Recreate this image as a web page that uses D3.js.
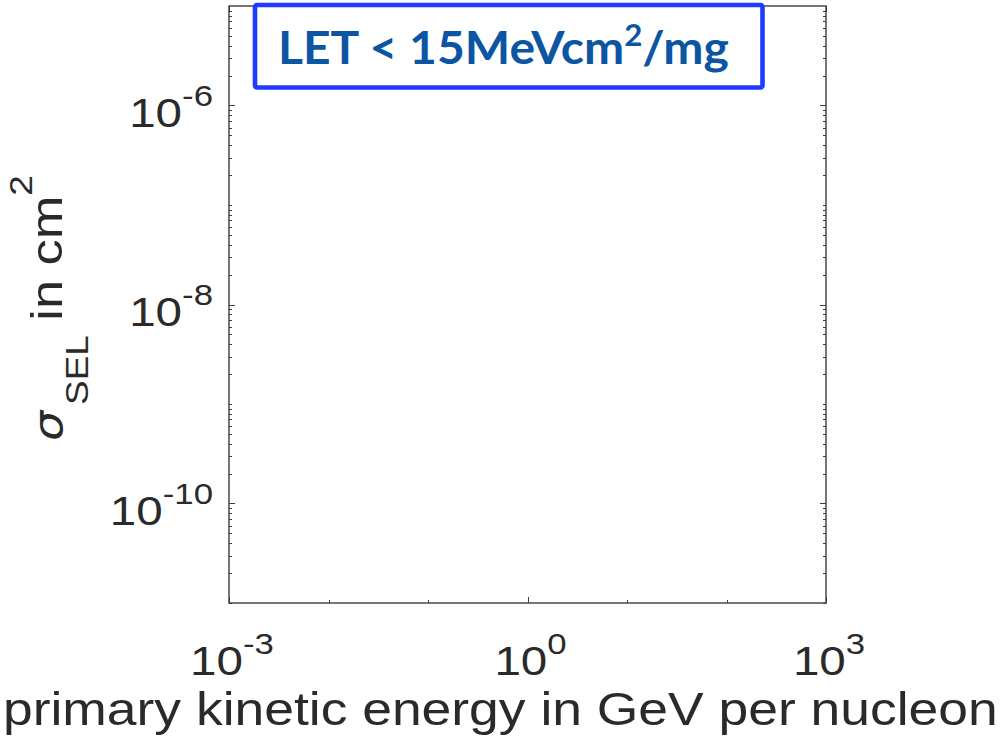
<!DOCTYPE html>
<html>
<head>
<meta charset="utf-8">
<script src="https://cdn.jsdelivr.net/npm/d3@7"></script>
<style>
  html, body { margin: 0; padding: 0; background: #ffffff; }
  svg { display: block; }
</style>
</head>
<body>
<svg id="chart" width="1006" height="748"></svg>
<script>
// Axis ranges (log scales)
const xDomain = [1e-3, 1e3];
const yDomain = [1e-11, 1e-5];

// Labelled decades on each axis
const xTickExponents = [-3, 0, 3];
const yTickExponents = [-10, -8, -6];

// Unlabelled decade ticks on the energy axis
const xMinorExponents = [-2, -1, 1, 2];

// Minor ticks on the cross-section axis: mantissas 1..9 inside each decade
const yMinorDecades = [-11, -10, -9, -8, -7, -6];
const yMinorMantissas = [1, 2, 3, 4, 5, 6, 7, 8, 9];

// Text
const xAxisTitle = "primary kinetic energy in GeV per nucleon";
const yAxisTitleParts = ["σ", "SEL", " in cm", "2"];
const annotationParts = ["LET < 15MeVcm", "2", "/mg"];

const svg = d3.select("#chart");
const W = 1006, H = 748;
const plot = { left: 229, right: 826, top: 6, bottom: 603 };

const x = d3.scaleLog().domain(xDomain).range([plot.left, plot.right]);
const y = d3.scaleLog().domain(yDomain).range([plot.bottom, plot.top]);

const axisColor = "#3c3c3c";
const labelColor = "#2a2a2a";
const sansFont = "'Liberation Sans', Arial, Helvetica, sans-serif";
const majorLen = 6, minorLen = 3;
const wide = 1.16;   // horizontal widening of the axis text glyphs

svg.append("rect").attr("width", W).attr("height", H).attr("fill", "#ffffff");

// ---- tick marks (pointing inward, mirrored on opposite sides) ----
const ticks = svg.append("g").attr("stroke", axisColor).attr("stroke-width", 1);

const yMajorVals = yTickExponents.map(e => Math.pow(10, e));
const yMinorVals = [];
yMinorDecades.forEach(d => yMinorMantissas.forEach(m => {
  const v = m * Math.pow(10, d);
  if (v >= yDomain[0] && v <= yDomain[1] && !yTickExponents.some(e => Math.abs(Math.log10(v) - e) < 1e-9)) {
    yMinorVals.push(v);
  }
}));

function hTicks(vals, len) {
  vals.forEach(v => {
    const yy = Math.round(y(v)) + 0.5;
    ticks.append("line").attr("x1", plot.left).attr("x2", plot.left + len).attr("y1", yy).attr("y2", yy);
    ticks.append("line").attr("x1", plot.right).attr("x2", plot.right - len).attr("y1", yy).attr("y2", yy);
  });
}
hTicks(yMajorVals, majorLen);
hTicks(yMinorVals, minorLen);

const xMajorVals = xTickExponents.map(e => Math.pow(10, e));
const xMinorVals = xMinorExponents.map(e => Math.pow(10, e));
function vTicks(vals, len) {
  vals.forEach(v => {
    const xx = Math.round(x(v)) + 0.5;
    ticks.append("line").attr("x1", xx).attr("x2", xx).attr("y1", plot.bottom).attr("y2", plot.bottom - len);
    ticks.append("line").attr("x1", xx).attr("x2", xx).attr("y1", plot.top).attr("y2", plot.top + len);
  });
}
vTicks(xMajorVals, majorLen);
vTicks(xMinorVals, minorLen);

// ---- box around the axes ----
svg.append("rect")
  .attr("x", plot.left).attr("y", plot.top)
  .attr("width", plot.right - plot.left).attr("height", plot.bottom - plot.top)
  .attr("fill", "none").attr("stroke", axisColor).attr("stroke-width", 1.4);

// ---- tick labels: 10 with superscript exponent ----
function powerLabel(sel, exp, supSize, supRise) {
  sel.append("tspan").text("10");
  sel.append("tspan").attr("font-size", supSize).attr("dy", -supRise)
    .text(exp < 0 ? "-" + Math.abs(exp) : String(exp));
}

xTickExponents.forEach(e => {
  const t = svg.append("text")
    .attr("transform", `translate(${x(Math.pow(10, e)) + 3},675) scale(${wide},1)`)
    .attr("text-anchor", "middle")
    .attr("font-family", sansFont).attr("font-size", 41)
    .attr("fill", labelColor);
  powerLabel(t, e, 30, 21);
});

yTickExponents.forEach(e => {
  const t = svg.append("text")
    .attr("transform", `translate(213,${y(Math.pow(10, e)) + 21}) scale(${wide},1)`)
    .attr("text-anchor", "end")
    .attr("font-family", sansFont).attr("font-size", 41)
    .attr("fill", labelColor);
  powerLabel(t, e, 30, 21);
});

// ---- x axis title, fitted to its span ----
const xTitle = svg.append("text")
  .attr("x", 0).attr("y", 0)
  .attr("font-family", sansFont).attr("font-size", 46)
  .attr("fill", labelColor)
  .text(xAxisTitle);
{
  const bb = xTitle.node().getBBox();
  const sx = 995 / bb.width;
  xTitle.attr("transform", `translate(${3 - bb.x * sx},725) scale(${sx},1)`);
}

// ---- y axis title: sigma with subscript, unit with superscript ----
const yTitle = svg.append("text")
  .attr("font-family", sansFont).attr("font-size", 44)
  .attr("fill", labelColor);
yTitle.append("tspan").attr("font-style", "italic")
  .attr("font-family", "'DejaVu Sans', 'Liberation Sans', sans-serif")
  .attr("font-size", 40)
  .text(yAxisTitleParts[0]);
yTitle.append("tspan").attr("font-size", 31).attr("dy", 26).attr("dx", 5).text(yAxisTitleParts[1]);
yTitle.append("tspan").attr("dy", -26).text(yAxisTitleParts[2]);
yTitle.append("tspan").attr("font-size", 31).attr("dy", -30).text(yAxisTitleParts[3]);
{
  const bb = yTitle.node().getBBox();
  const s = 266 / bb.width;
  yTitle.attr("transform", `translate(62,${441 + bb.x * s}) rotate(-90) scale(${s},1)`);
}

// ---- annotation box ----
svg.append("rect")
  .attr("x", 255).attr("y", 5)
  .attr("width", 507.5).attr("height", 82.5)
  .attr("rx", 2)
  .attr("fill", "#ffffff")
  .attr("stroke", "#1f3bff").attr("stroke-width", 4.6);

const note = svg.append("text")
  .attr("x", 0).attr("y", 0)
  .attr("font-family", "Lato, 'Open Sans', sans-serif")
  .attr("font-weight", "bold").attr("font-size", 46)
  .attr("fill", "#0b55a3");
note.append("tspan").text(annotationParts[0]);
note.append("tspan").attr("font-size", 30).attr("dy", -18).text(annotationParts[1]);
note.append("tspan").attr("dy", 18).text(annotationParts[2]);
{
  const bb = note.node().getBBox();
  const sx = 451 / bb.width;
  note.attr("transform", `translate(${278 - bb.x * sx},63.5) scale(${sx},1)`);
}
</script>
</body>
</html>
